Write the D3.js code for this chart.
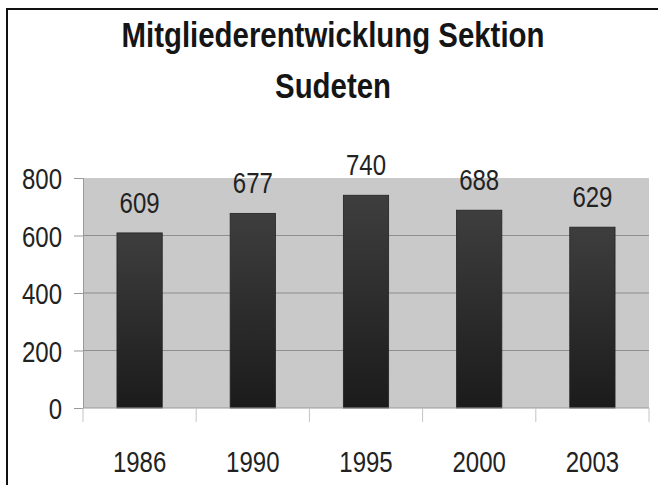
<!DOCTYPE html>
<html>
<head>
<meta charset="utf-8">
<script src="https://cdn.jsdelivr.net/npm/d3@7"></script>
<style>
  html, body { margin: 0; padding: 0; background: #fff; }
  svg { display: block; }
  text { font-family: "Liberation Sans", Arial, Helvetica, sans-serif; }
</style>
</head>
<body>
<script>
// ---- data ----
const titleLines = ["Mitgliederentwicklung Sektion", "Sudeten"];
const years = ["1986", "1990", "1995", "2000", "2003"];
const members = [609, 677, 740, 688, 629];
const yTicks = [0, 200, 400, 600, 800];

// ---- layout ----
const W = 658, H = 485;
const plot = { left: 83, right: 649, top: 178, bottom: 408 };
const numSize = 30, numScale = 0.8;

const svg = d3.select("body").append("svg").attr("width", W).attr("height", H);

// frame
svg.append("line").attr("x1", 7).attr("x2", 7).attr("y1", 9).attr("y2", H)
  .attr("stroke", "#111").attr("stroke-width", 2);
svg.append("line").attr("x1", 6).attr("x2", W).attr("y1", 9).attr("y2", 9)
  .attr("stroke", "#111").attr("stroke-width", 2);

const x = d3.scaleBand().domain(years).range([plot.left, plot.right])
  .paddingInner(0.6).paddingOuter(0.3);
const y = d3.scaleLinear().domain([0, 800]).range([plot.bottom, plot.top]);

// gradient for bars
const defs = svg.append("defs");
const grad = defs.append("linearGradient").attr("id", "barGrad")
  .attr("x1", 0).attr("y1", 0).attr("x2", 0).attr("y2", 1);
grad.append("stop").attr("offset", "0%").attr("stop-color", "#3e3e3e");
grad.append("stop").attr("offset", "100%").attr("stop-color", "#1b1b1b");

// plot background
svg.append("rect").attr("x", plot.left).attr("y", y(800))
  .attr("width", plot.right - plot.left).attr("height", y(0) - y(800))
  .attr("fill", "#c9c9c9");

// gridlines
svg.append("g").selectAll("line").data(yTicks.filter(d => d > 0 && d < 800)).join("line")
  .attr("x1", plot.left).attr("x2", plot.right)
  .attr("y1", d => y(d)).attr("y2", d => y(d))
  .attr("stroke", "#8e8e8e").attr("stroke-width", 1.2);

// y axis
const yAxis = svg.append("g").attr("transform", `translate(${plot.left},0)`)
  .call(d3.axisLeft(y).tickValues(yTicks).tickSize(9).tickFormat(""));
yAxis.select(".domain").attr("stroke", "#999");
yAxis.selectAll(".tick line").attr("stroke", "#999");

svg.append("g").selectAll("text").data(yTicks).join("text")
  .attr("transform", d => `translate(62,${y(d) + 11}) scale(${numScale},1)`)
  .attr("text-anchor", "end")
  .attr("font-size", numSize).attr("fill", "#222")
  .text(d => d);

// bars
svg.append("g").selectAll("rect").data(years).join("rect")
  .attr("x", d => x(d)).attr("width", x.bandwidth())
  .attr("y", (d, i) => y(members[i]))
  .attr("height", (d, i) => y(0) - y(members[i]))
  .attr("fill", "url(#barGrad)")
  .attr("stroke", "#222").attr("stroke-width", 0.8);

// x axis line + ticks at band boundaries
svg.append("line").attr("x1", plot.left).attr("x2", plot.right)
  .attr("y1", y(0)).attr("y2", y(0)).attr("stroke", "#999").attr("stroke-width", 1.2);
const step = x.step();
const boundaries = d3.range(years.length + 1).map(k => plot.left + k * step);
svg.append("g").selectAll("line").data(boundaries).join("line")
  .attr("x1", d => d).attr("x2", d => d)
  .attr("y1", y(0)).attr("y2", y(0) + 14)
  .attr("stroke", "#c4c4c4").attr("stroke-width", 1);

// x labels
svg.append("g").selectAll("text").data(years).join("text")
  .attr("transform", d => `translate(${x(d) + x.bandwidth() / 2},472) scale(${numScale},1)`)
  .attr("text-anchor", "middle")
  .attr("font-size", numSize).attr("fill", "#222")
  .text(d => d);

// value labels
svg.append("g").selectAll("text").data(years).join("text")
  .attr("transform", (d, i) => `translate(${x(d) + x.bandwidth() / 2},${y(members[i]) - 20}) scale(${numScale},1)`)
  .attr("text-anchor", "middle")
  .attr("font-size", numSize).attr("fill", "#222")
  .text((d, i) => members[i]);

// title
svg.append("g").selectAll("text").data(titleLines).join("text")
  .attr("transform", (d, i) => `translate(333,${47 + i * 51}) scale(0.84,1)`)
  .attr("text-anchor", "middle")
  .attr("font-size", 35).attr("font-weight", "bold").attr("fill", "#151515")
  .text(d => d);
</script>
</body>
</html>
